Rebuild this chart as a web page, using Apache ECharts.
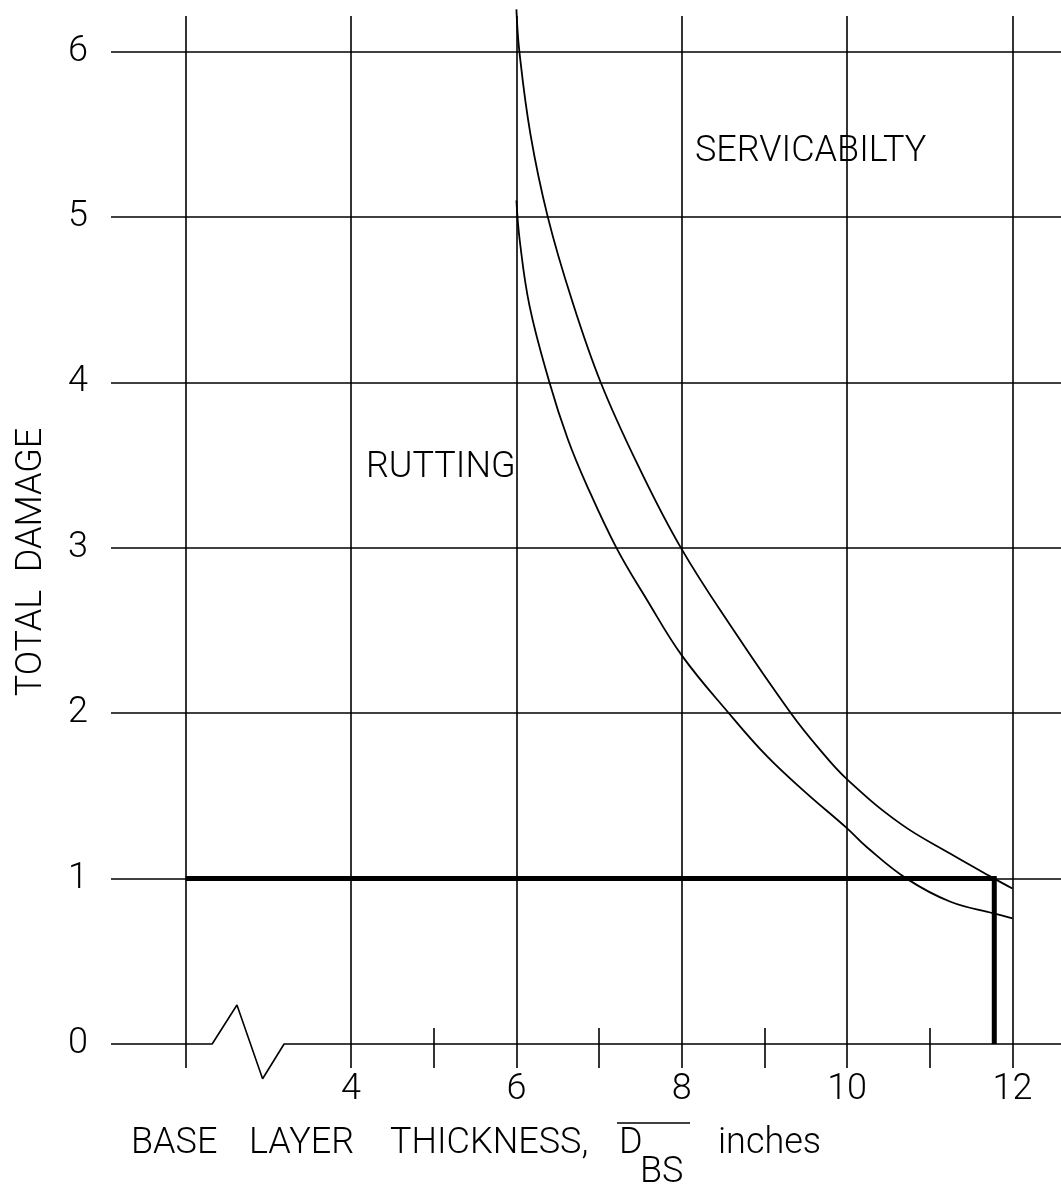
<!DOCTYPE html>
<html>
<head>
<meta charset="utf-8">
<script src="https://cdn.jsdelivr.net/npm/echarts@6/dist/echarts.min.js"></script>
<style>
  html, body { margin: 0; padding: 0; background: #fff; }
  #chart { width: 1061px; height: 1186px; }
</style>
</head>
<body>
<div id="chart"></div>
<script>
// axis extents (data units)
const xMin = 1.0965, xMax = 12.587;
const yMin = -0.1451, yMax = 6.3127;
const gridTop = 6.216;

// ticks / grid
const xLabels = [4, 6, 8, 10, 12];
const xMinorTicks = [5, 7, 9, 11];
const xGridLines = [2, 4, 6, 8, 10, 12];
const yLabels = [0, 1, 2, 3, 4, 5, 6];
const yGridLines = [1, 2, 3, 4, 5, 6];

// zero line with the axis break
const zeroLine = [[xMin, 0], [2.32, 0], [2.62, 0.236], [2.93, -0.21], [3.19, 0], [xMax, 0]];

// curves
const servicability = [
  [6.0, 6.256], [6.036, 6.0], [6.17, 5.5], [6.38, 5.0], [6.67, 4.5], [7.02, 4.0],
  [7.47, 3.5], [7.99, 3.0], [8.63, 2.5], [9.32, 2.0], [9.67, 1.78], [10.0, 1.60],
  [10.64, 1.334], [11.25, 1.15], [11.78, 1.0], [12.0, 0.94]
];
const rutting = [
  [6.0, 5.10], [6.04, 4.86], [6.16, 4.46], [6.40, 4.0], [6.62, 3.66], [6.85, 3.38],
  [7.21, 3.0], [7.58, 2.685], [8.0, 2.35], [8.57, 2.0], [9.03, 1.74], [9.5, 1.52],
  [10.0, 1.304], [10.24, 1.19], [10.72, 1.0], [11.25, 0.86], [11.77, 0.79], [12.0, 0.76]
];

// design point: damage = 1 -> thickness
const designLine = [[2, 1], [11.78, 1], [11.78, 0]];

const FONT = '300 36px Roboto';

let gridSegments = [];
xGridLines.forEach(x => gridSegments.push({ coords: [[x, yMin], [x, gridTop]] }));
yGridLines.forEach(y => gridSegments.push({ coords: [[xMin, y], [xMax, y]] }));

let myChart = echarts.init(document.getElementById('chart'));
myChart.setOption({
  backgroundColor: '#fff',
  animation: false,
  grid: { left: 111, right: 0, top: 0, bottom: 1186 - 1068 },
  xAxis: {
    type: 'value',
    min: xMin,
    max: xMax,
    axisLine: { show: false, onZero: false },
    splitLine: { show: false },
    axisTick: {
      show: true,
      inside: true,
      length: 40,
      customValues: xMinorTicks,
      lineStyle: { color: '#000', width: 1.6 }
    },
    axisLabel: {
      customValues: xLabels,
      margin: 4,
      color: '#000',
      fontFamily: 'Roboto',
      fontWeight: 300,
      fontSize: 36
    }
  },
  yAxis: {
    type: 'value',
    min: yMin,
    max: yMax,
    axisLine: { show: false },
    axisTick: { show: false },
    splitLine: { show: false },
    axisLabel: {
      customValues: yLabels,
      margin: 23,
      color: '#000',
      fontFamily: 'Roboto',
      fontWeight: 300,
      fontSize: 36
    }
  },
  graphic: [
    { type: 'text', left: 131, top: 1126, style: { text: 'BASE', font: FONT, fill: '#000' } },
    { type: 'text', left: 249, top: 1126, style: { text: 'LAYER', font: FONT, fill: '#000' } },
    { type: 'text', left: 390, top: 1126, style: { text: 'THICKNESS,', font: FONT, fill: '#000' } },
    { type: 'text', left: 619, top: 1126, style: { text: 'D', font: FONT, fill: '#000' } },
    { type: 'text', left: 640, top: 1155, style: { text: 'BS', font: FONT, fill: '#000' } },
    { type: 'text', left: 718, top: 1126, style: { text: 'inches', font: FONT, fill: '#000' } },
    { type: 'line', shape: { x1: 617, y1: 1123, x2: 690, y2: 1123 }, style: { stroke: '#000', lineWidth: 1.6 } },
    { type: 'text', x: 32, y: 562, rotation: Math.PI / 2,
      style: { text: 'TOTAL  DAMAGE', font: FONT, fill: '#000', align: 'center', verticalAlign: 'middle' } },
    { type: 'text', left: 695, top: 134, style: { text: 'SERVICABILTY', font: FONT, fill: '#000' } },
    { type: 'text', left: 366, top: 450, style: { text: 'RUTTING', font: FONT, fill: '#000' } }
  ],
  series: [
    {
      name: 'grid',
      type: 'lines',
      coordinateSystem: 'cartesian2d',
      silent: true,
      lineStyle: { color: '#000', width: 1.6, opacity: 1 },
      data: gridSegments
    },
    {
      name: 'zero',
      type: 'line',
      data: zeroLine,
      showSymbol: false,
      clip: false,
      silent: true,
      lineStyle: { color: '#000', width: 1.6 }
    },
    {
      name: 'SERVICABILTY',
      type: 'line',
      data: servicability,
      smooth: 0.4,
      showSymbol: false,
      clip: false,
      lineStyle: { color: '#000', width: 1.8 }
    },
    {
      name: 'RUTTING',
      type: 'line',
      data: rutting,
      smooth: 0.4,
      showSymbol: false,
      clip: false,
      lineStyle: { color: '#000', width: 1.8 }
    },
    {
      name: 'design',
      type: 'line',
      data: designLine,
      showSymbol: false,
      lineStyle: { color: '#000', width: 5, cap: 'butt', join: 'miter' }
    }
  ]
});
window.addEventListener('resize', () => {
  if (myChart) {
    myChart.resize();
  }
});
</script>
</body>
</html>
